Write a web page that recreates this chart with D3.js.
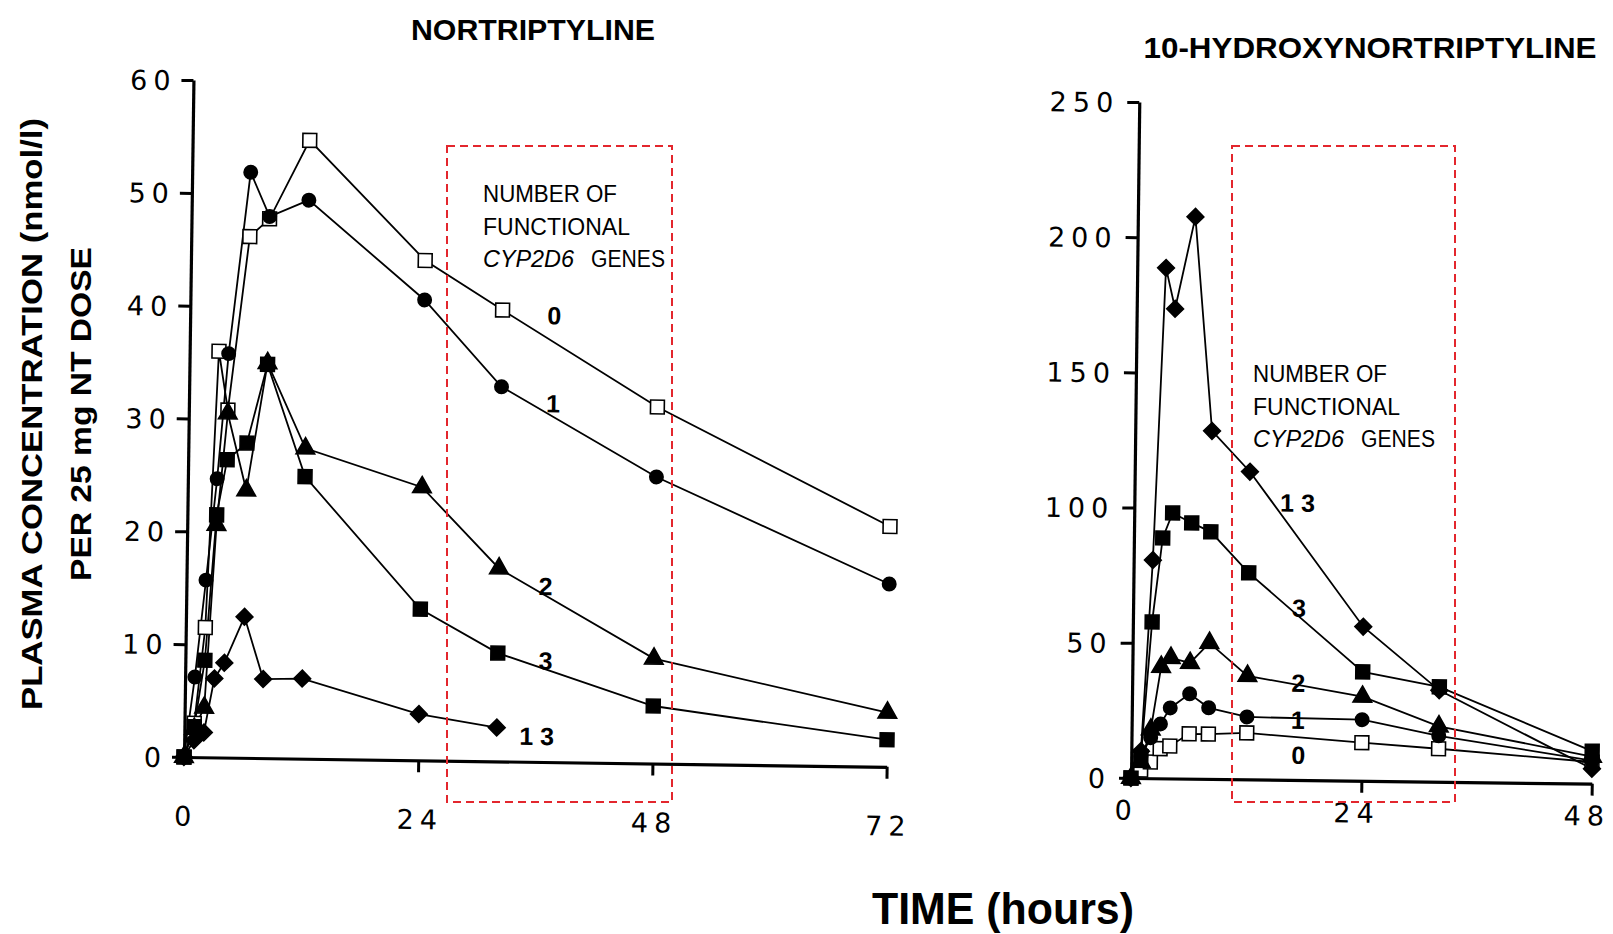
<!DOCTYPE html>
<html lang="en">
<head>
<meta charset="UTF-8">
<title>Nortriptyline / 10-hydroxynortriptyline</title>
<script src="https://cdn.jsdelivr.net/npm/d3@7/dist/d3.min.js"></script>
<style>
  body { margin: 0; background: #fff; }
  svg { display: block; }
</style>
</head>
<body>
<svg id="chart" width="1613" height="934"></svg>
<script>
// --- data (hours, nmol/l per 25 mg NT dose) ---
const hoursNT = [0, 1, 2, 3, 4, 6, 8, 12, 24, 32, 48, 72];
const nt0  = [0, 3.0, 11.5, 36.0, 30.8, 46.2, 47.8, 54.8, 44.3, 40.0, 31.6, 21.3];
const nt1  = [0, 7.1, 15.7, 24.7, 35.8, 51.9, 48.0, 49.5, 40.8, 33.2, 25.4, 16.2];
const nt2  = [0, 2.5, 4.4, 20.6, 30.5, 23.7, 35.0, 27.5, 24.2, 17.1, 9.3, 4.8];
const nt3  = [0, 2.7, 8.6, 21.5, 26.4, 27.9, 34.9, 25.0, 13.4, 9.6, 5.1, 2.4];
const nt13 = [0, 1.5, 2.2, 7.0, 8.4, 12.5, 7.0, 7.1, 4.1, 3.0];

const hoursOH = [0, 1, 2, 3, 4, 6, 8, 12, 24, 32, 48];
const oh0  = [0, 3, 6, 11, 12, 16.6, 16.6, 17.2, 14.1, 12.2, 8];
const oh1  = [0, 8, 15, 20.1, 26.1, 31.4, 26.3, 23.1, 22.6, 17, 8.5];
const oh2  = [0, 6, 18, 41.2, 44.6, 42.8, 50.3, 38.3, 31.1, 20.5, 10];
const oh3  = [0, 8, 57.8, 88.9, 98.2, 94.6, 91.4, 76.4, 40.3, 35.1, 12];
const oh13 = [0, 10, 80.7, 188.8, 173.7, 207.8, 128.7, 113.8, 57, 33.8, 5.5];

const genes = ["0", "1", "2", "3", "1 3"];
const ticksNTy = [0, 10, 20, 30, 40, 50, 60];
const ticksNTx = [0, 24, 48, 72];
const ticksOHy = [0, 50, 100, 150, 200, 250];
const ticksOHx = [0, 24, 48];

// where the gene-count labels sit, in data units (hours, conc)
const labNT = [[37.3, 38.8], [37.3, 31.0], [36.8, 14.8], [36.9, 8.2], [36.1, 1.5]];
const labOH = [[17.4, 6.0], [17.3, 18.9], [17.3, 32.6], [17.3, 60.4], [17.0, 99.2]];

const svg = d3.select("#chart");
const ink = "#000";
const red = "#e3262d";

// marker for each gene count: open square, dot, triangle, filled square, diamond
const shapes = [
  {type: d3.symbolSquare, size: 190, fill: "#fff", rot: 0},
  {type: d3.symbolCircle, size: 140, fill: ink, rot: 0},
  {type: d3.symbolTriangle, size: 150, fill: ink, rot: 0},
  {type: d3.symbolSquare, size: 190, fill: ink, rot: 0},
  {type: d3.symbolSquare, size: 140, fill: ink, rot: 45}
];

function panel(opt) {
  // the scan is slightly tilted, so the whole plot is turned a little
  const g = svg.append("g")
    .attr("transform", `rotate(${opt.tilt},${opt.x0},${opt.y0})`);

  const x = d3.scaleLinear().domain([0, opt.xmax]).range([opt.x0, opt.x0 + opt.xmax * opt.pxh]);
  const y = d3.scaleLinear().domain([0, opt.ymax]).range([opt.y0, opt.ytop]);

  const ay = g.append("g")
    .attr("transform", `translate(${opt.x0},0)`)
    .call(d3.axisLeft(y).tickValues(opt.yticks).tickSize(12).tickSizeOuter(0).tickFormat(d3.format("d")));
  const ax = g.append("g")
    .attr("transform", `translate(0,${opt.y0})`)
    .call(d3.axisBottom(x).tickValues(opt.xticks).tickSize(12).tickSizeOuter(0).tickFormat(d3.format("d")));

  [ay, ax].forEach(a => {
    a.select(".domain").attr("stroke", ink).attr("stroke-width", 3.2);
    a.selectAll(".tick line").attr("stroke", ink).attr("stroke-width", 3);
    a.selectAll(".tick text")
      .attr("fill", ink)
      .style("font-family", "'DejaVu Sans', sans-serif")
      .style("font-size", "27px")
      .style("letter-spacing", "6px");
  });
  ay.selectAll(".tick text").attr("x", -opt.ylabGap).attr("dy", "0.36em");
  ax.selectAll(".tick text").attr("y", opt.xlabGap).attr("dy", "0.36em").attr("dx", opt.xlabDx);
  ax.select(".tick line").attr("stroke-width", 0);

  const line = d3.line().x((d, i) => x(opt.hours[i])).y(d => y(d));
  const sym = d3.symbol();

  opt.series.forEach(vals => {
    g.append("path")
      .datum(vals)
      .attr("d", line)
      .attr("fill", "none")
      .attr("stroke", ink)
      .attr("stroke-width", 1.8);
  });
  opt.series.forEach((vals, k) => {
    const s = shapes[k];
    g.selectAll(null)
      .data(vals)
      .enter()
      .append("path")
      .attr("transform", (d, i) => `translate(${x(opt.hours[i])},${y(d)}) rotate(${s.rot})`)
      .attr("d", sym.type(s.type).size(s.size)())
      .attr("fill", s.fill)
      .attr("stroke", ink)
      .attr("stroke-width", 1.6);
  });

  g.selectAll(null)
    .data(opt.labels)
    .enter()
    .append("text")
    .attr("x", d => x(d[0]))
    .attr("y", d => y(d[1]))
    .attr("text-anchor", "middle")
    .style("font-family", "'Liberation Sans', Arial, sans-serif")
    .style("font-weight", "bold")
    .style("font-size", "25px")
    .text((d, i) => genes[i]);
}

panel({
  tilt: 0.8, x0: 184, y0: 757, ytop: 80, xmax: 72, ymax: 60, pxh: 9.76,
  hours: hoursNT, series: [nt0, nt1, nt2, nt3, nt13],
  yticks: ticksNTy, xticks: ticksNTx, ylabGap: 17, xlabGap: 59, xlabDx: 2,
  labels: labNT
});

panel({
  tilt: 0.7, x0: 1131, y0: 778, ytop: 102, xmax: 48, ymax: 250, pxh: 9.6,
  hours: hoursOH, series: [oh0, oh1, oh2, oh3, oh13],
  yticks: ticksOHy, xticks: ticksOHx, ylabGap: 20, xlabGap: 32, xlabDx: -5,
  labels: labOH
});

// dashed red boxes
[[447, 146, 225, 656], [1232, 146, 223, 656]].forEach(b => {
  svg.append("rect")
    .attr("x", b[0]).attr("y", b[1]).attr("width", b[2]).attr("height", b[3])
    .attr("fill", "none")
    .attr("stroke", red)
    .attr("stroke-width", 2)
    .attr("stroke-dasharray", "8,5");
});

// legend text inside the boxes
function legend(x0, y0) {
  const narrow = "'Liberation Sans Narrow', 'Liberation Sans', Arial, sans-serif";
  const rows = [["NUMBER OF", 134, 0], ["FUNCTIONAL", 147, 33]];
  rows.forEach(r => {
    svg.append("text")
      .attr("x", x0).attr("y", y0 + r[2])
      .attr("textLength", r[1]).attr("lengthAdjust", "spacingAndGlyphs")
      .style("font-family", narrow).style("font-size", "23px")
      .text(r[0]);
  });
  svg.append("text")
    .attr("x", x0).attr("y", y0 + 65)
    .attr("textLength", 91).attr("lengthAdjust", "spacingAndGlyphs")
    .style("font-family", narrow).style("font-size", "23px").style("font-style", "italic")
    .text("CYP2D6");
  svg.append("text")
    .attr("x", x0 + 108).attr("y", y0 + 65)
    .attr("textLength", 74).attr("lengthAdjust", "spacingAndGlyphs")
    .style("font-family", narrow).style("font-size", "23px")
    .text("GENES");
}
legend(483, 202);
legend(1253, 382);

// titles
function bold(txt, x, y, size, len, rot) {
  const t = svg.append("text")
    .attr("text-anchor", "middle")
    .attr("textLength", len).attr("lengthAdjust", "spacingAndGlyphs")
    .style("font-family", "'Liberation Sans', Arial, sans-serif")
    .style("font-weight", "bold")
    .style("font-size", size + "px")
    .text(txt);
  if (rot) t.attr("transform", `translate(${x},${y}) rotate(-90)`);
  else t.attr("x", x).attr("y", y);
}
bold("NORTRIPTYLINE", 533, 40, 30, 244);
bold("10-HYDROXYNORTRIPTYLINE", 1370, 58, 30, 453);
bold("PLASMA CONCENTRATION (nmol/l)", 42, 414, 30, 592, true);
bold("PER 25 mg NT DOSE", 91, 414, 30, 334, true);
bold("TIME (hours)", 1003, 924, 44, 262);
</script>
</body>
</html>
